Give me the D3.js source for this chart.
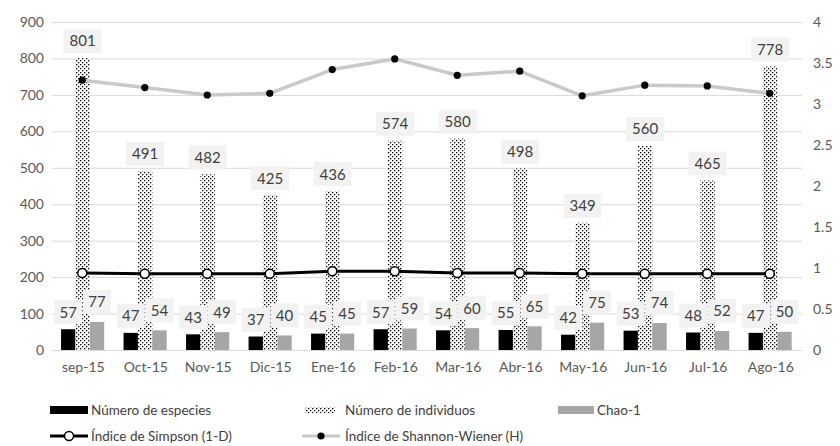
<!DOCTYPE html>
<html><head><meta charset="utf-8">
<script src="https://cdn.jsdelivr.net/npm/d3@7"></script>
<style>
body{margin:0;background:#fff;}
text{font-family:Lato,"Open Sans",sans-serif;}
</style></head>
<body><svg id="c" width="840" height="446"></svg>
<script>
const categories=["sep-15","Oct-15","Nov-15","Dic-15","Ene-16","Feb-16","Mar-16","Abr-16","May-16","Jun-16","Jul-16","Ago-16"];
const especies=[57,47,43,37,45,57,54,55,42,53,48,47];
const individuos=[801,491,482,425,436,574,580,498,349,560,465,778];
const chao1=[77,54,49,40,45,59,60,65,75,74,52,50];
const simpson=[0.94,0.93,0.93,0.93,0.96,0.96,0.94,0.94,0.93,0.93,0.93,0.93];
const shannon=[3.29,3.20,3.11,3.13,3.42,3.55,3.35,3.40,3.10,3.23,3.22,3.13];
const leftTicks=[0,100,200,300,400,500,600,700,800,900];
const rightTicks=[0,0.5,1,1.5,2,2.5,3,3.5,4];
const barSeries=["especies","individuos","chao1"];

const svg=d3.select("#c");
const L=52,R=802,T=22,B=350;
const defs=svg.append("defs");
const pat=defs.append("pattern").attr("id","dots").attr("patternUnits","userSpaceOnUse").attr("width",4).attr("height",4);
pat.append("rect").attr("width",4).attr("height",4).attr("fill","#fff");
pat.append("rect").attr("x",0).attr("y",0).attr("width",1.3).attr("height",1.3).attr("fill","#000");
pat.append("rect").attr("x",2).attr("y",2).attr("width",1.3).attr("height",1.3).attr("fill","#000");

const x=d3.scaleBand().domain(categories).range([L,R]).padding(0);
const xs=d3.scaleBand().domain(barSeries).range([x.bandwidth()*0.145,x.bandwidth()*0.835]).padding(0);
const yL=d3.scaleLinear().domain([0,900]).range([B,T]);
const yR=d3.scaleLinear().domain([0,4]).range([B,T]);

// gridlines
svg.append("g").attr("transform",`translate(${L},0)`)
 .call(d3.axisLeft(yL).tickValues(leftTicks).tickSize(-(R-L)).tickFormat(""))
 .call(g=>g.select(".domain").remove())
 .call(g=>g.selectAll("line").attr("stroke","#d9d9d9").attr("stroke-width",1));

// left axis labels
svg.append("g").attr("transform",`translate(${L-8},0)`)
 .call(d3.axisLeft(yL).tickValues(leftTicks).tickSize(0).tickFormat(d3.format("d")))
 .call(g=>g.select(".domain").remove())
 .call(g=>g.selectAll("text").attr("fill","#595959").style("font-size","14px").attr("text-anchor","end").attr("x",0));
// right axis labels
svg.append("g").attr("transform",`translate(${R+11},0)`)
 .call(d3.axisRight(yR).tickValues(rightTicks).tickSize(0).tickFormat(d=>String(d)))
 .call(g=>g.select(".domain").remove())
 .call(g=>g.selectAll("text").attr("fill","#595959").style("font-size","14px").attr("x",0));
// x axis
svg.append("g").attr("transform",`translate(0,${B})`)
 .call(d3.axisBottom(x).tickSize(0).tickPadding(12))
 .call(g=>g.select(".domain").attr("stroke","#d9d9d9"))
 .call(g=>g.selectAll("text").attr("fill","#595959").style("font-size","14px"));

const data=categories.map((c,i)=>({c,especies:especies[i],individuos:individuos[i],chao1:chao1[i]}));
const fills={especies:"#000",individuos:"url(#dots)",chao1:"#a6a6a6"};
const gb=svg.append("g");
barSeries.forEach(s=>{
  gb.selectAll(null).data(data).enter().append("rect")
   .attr("x",d=>x(d.c)+xs(s)).attr("width",xs.bandwidth())
   .attr("y",d=>yL(d[s])).attr("height",d=>B-yL(d[s])).attr("fill",fills[s]);
});

// lines
const line=(arr,ys)=>d3.line().x((d,i)=>x(categories[i])+x.bandwidth()/2-1).y(d=>ys(d))(arr);
svg.append("path").attr("d",line(shannon,yR)).attr("fill","none").attr("stroke","#c9c9c9").attr("stroke-width",3.5).attr("stroke-linejoin","round");
svg.append("path").attr("d",line(simpson,yR)).attr("fill","none").attr("stroke","#000").attr("stroke-width",3).attr("stroke-linejoin","round");
svg.selectAll(null).data(shannon).enter().append("circle")
 .attr("cx",(d,i)=>x(categories[i])+x.bandwidth()/2-1).attr("cy",d=>yR(d)).attr("r",3.6).attr("fill","#000");
svg.selectAll(null).data(simpson).enter().append("circle")
 .attr("cx",(d,i)=>x(categories[i])+x.bandwidth()/2-1).attr("cy",d=>yR(d)).attr("r",4.5).attr("fill","#fff").attr("stroke","#000").attr("stroke-width",1.5);

// labels
const gl=svg.append("g");
function label(cx,top,txt,w,gap){
  const h=24;
  gl.append("rect").attr("x",cx-w/2).attr("y",top-gap-h).attr("width",w).attr("height",h).attr("fill","#f2f2f2");
  gl.append("text").attr("x",cx).attr("y",top-gap-h/2).attr("dy","0.36em").attr("text-anchor","middle")
   .attr("fill","#404040").style("font-size","15px").text(txt);
}
data.forEach(d=>{
  barSeries.forEach(s=>{
    const cx=x(d.c)+xs(s)+xs.bandwidth()/2;
    label(cx,yL(d[s]),String(d[s]),s==="individuos"?38:28,s==="chao1"?8:5);
  });
});

// legend
const lg=svg.append("g").style("font-size","13.5px");
const ly1=410, ly2=436;
lg.append("rect").attr("x",50).attr("y",ly1-4).attr("width",38).attr("height",8).attr("fill","#000");
lg.append("text").attr("x",91).attr("y",ly1).attr("dy","0.35em").attr("fill","#404040").text("Número de especies");
lg.append("rect").attr("x",305).attr("y",ly1-3).attr("width",30).attr("height",6).attr("fill","url(#dots)");
lg.append("text").attr("x",345).attr("y",ly1).attr("dy","0.35em").attr("fill","#404040").text("Número de individuos");
lg.append("rect").attr("x",558).attr("y",ly1-4).attr("width",36).attr("height",8).attr("fill","#a6a6a6");
lg.append("text").attr("x",597).attr("y",ly1).attr("dy","0.35em").attr("fill","#404040").text("Chao-1");
lg.append("line").attr("x1",50).attr("x2",88).attr("y1",ly2).attr("y2",ly2).attr("stroke","#000").attr("stroke-width",3);
lg.append("circle").attr("cx",69).attr("cy",ly2).attr("r",4.5).attr("fill","#fff").attr("stroke","#000").attr("stroke-width",1.5);
lg.append("text").attr("x",91).attr("y",ly2).attr("dy","0.35em").attr("fill","#404040").text("Índice de Simpson (1-D)");
lg.append("line").attr("x1",302).attr("x2",340).attr("y1",ly2).attr("y2",ly2).attr("stroke","#c9c9c9").attr("stroke-width",3);
lg.append("circle").attr("cx",321).attr("cy",ly2).attr("r",3.6).attr("fill","#000");
lg.append("text").attr("x",345).attr("y",ly2).attr("dy","0.35em").attr("fill","#404040").text("Índice de Shannon-Wiener (H)");
</script></body></html>
